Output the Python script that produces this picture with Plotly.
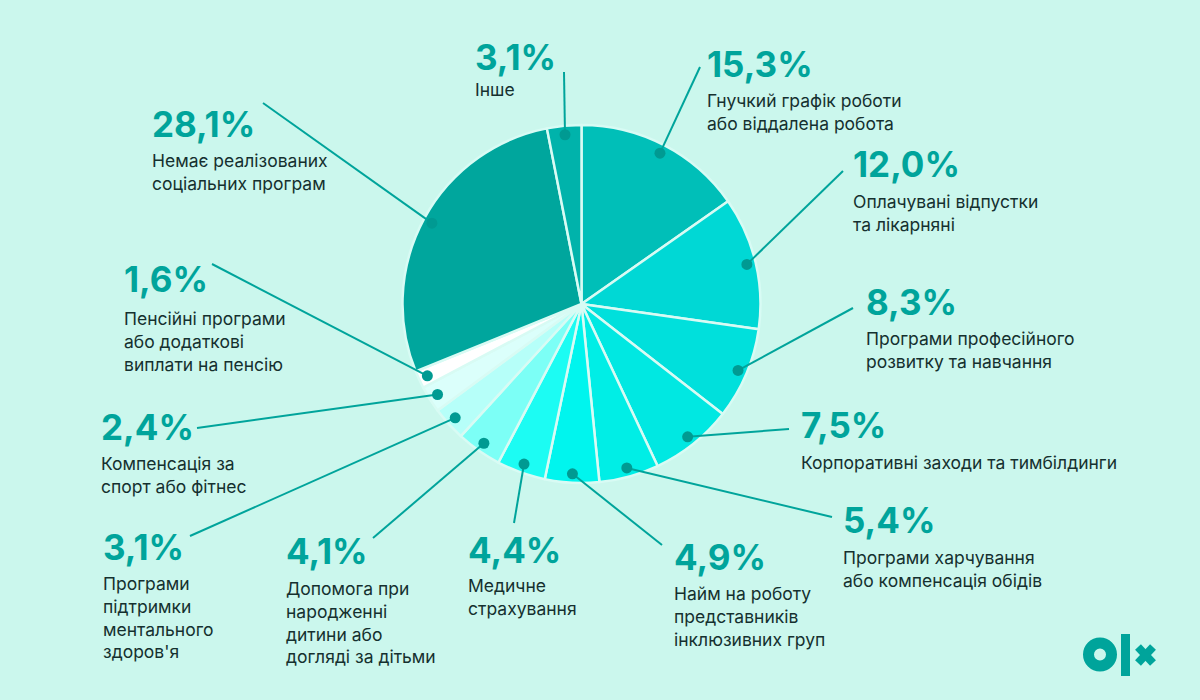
import math
import plotly.graph_objects as go

# ---------------- data ----------------
categories = [
    "Гнучкий графік роботи<br>або віддалена робота",
    "Оплачувані відпустки<br>та лікарняні",
    "Програми професійного<br>розвитку та навчання",
    "Корпоративні заходи та тимбілдинги",
    "Програми харчування<br>або компенсація обідів",
    "Найм на роботу<br>представників<br>інклюзивних груп",
    "Медичне<br>страхування",
    "Допомога при<br>народженні<br>дитини або<br>догляді за дітьми",
    "Програми<br>підтримки<br>ментального<br>здоров'я",
    "Компенсація за<br>спорт або фітнес",
    "Пенсійні програми<br>або додаткові<br>виплати на пенсію",
    "Немає реалізованих<br>соціальних програм",
    "Інше",
]
values = [15.3, 12.0, 8.3, 7.5, 5.4, 4.9, 4.4, 4.1, 3.1, 2.4, 1.6, 28.1, 3.1]
value_labels = ["15,3%", "12,0%", "8,3%", "7,5%", "5,4%", "4,9%", "4,4%",
                "4,1%", "3,1%", "2,4%", "1,6%", "28,1%", "3,1%"]

# ---------------- styling / layout ----------------
slice_colors = ["#00bfb8", "#00d8d5", "#00e0dc", "#00e8e2", "#00eee6", "#00f5ee",
                "#1cfcf3", "#7cfff6", "#b6fff9", "#dbfffb", "#ffffff", "#00a69d", "#00b3ab"]
BG = "#cbf7ed"
TEAL = "#00a49b"
DOT = "#009a92"
DARK = "#15302f"

W, H = 1200, 700
CX, CY, R = 581.5, 304, 179

# label layout: (percent x, percent center y, description top y, leader end x, leader end y)
label_pos = [
    (705, 64, 88, 700, 67),
    (851, 164, 189, 843, 171),
    (864, 302, 326, 853, 308),
    (799, 425, 450, 789, 429),
    (841, 520, 545, 832, 517),
    (672, 557, 581, 662, 545),
    (466, 550, 573, 514, 523),
    (284, 551, 576, 373, 538),
    (101, 547, 571, 190, 536),
    (99, 427, 451, 197, 428),
    (122, 279, 306, 212, 264),
    (150, 124, 148, 263, 103),
    (473, 57, 77, 564, 72),
]

fig = go.Figure()

fig.add_trace(go.Pie(
    values=values,
    labels=[c.replace("<br>", " ") for c in categories],
    sort=False,
    direction="clockwise",
    rotation=0,
    marker=dict(colors=slice_colors, line=dict(color="#d8fbf4", width=2.5)),
    textinfo="none",
    hoverinfo="label+percent",
    showlegend=False,
    domain=dict(x=[(CX - R) / W, (CX + R) / W], y=[(H - CY - R) / H, (H - CY + R) / H]),
))

# invisible cartesian trace to set up the pixel-space axes
fig.add_trace(go.Scatter(x=[0, W], y=[0, H], mode="markers",
                         marker=dict(opacity=0), hoverinfo="skip", showlegend=False))

# dot positions at slice mid-angles (computed from the data)
total = sum(values)
cum = 0
dots = []
for v in values:
    mid = (cum + v / 2) / total * 2 * math.pi
    cum += v
    dots.append((CX + 0.95 * R * math.sin(mid), CY - 0.95 * R * math.cos(mid)))

shapes = []
DR = 5.5
for (dx, dy), lp in zip(dots, label_pos):
    shapes.append(dict(type="line", xref="x", yref="y", layer="above",
                       x0=dx, y0=dy, x1=lp[3], y1=lp[4],
                       line=dict(color=TEAL, width=2)))
for dx, dy in dots:
    shapes.append(dict(type="circle", xref="x", yref="y", layer="above",
                       x0=dx - DR, y0=dy - DR, x1=dx + DR, y1=dy + DR,
                       line=dict(width=0), fillcolor=DOT))

annotations = []
for cat, vl, lp in zip(categories, value_labels, label_pos):
    annotations.append(dict(
        x=lp[0], y=lp[1], xref="x", yref="y", text=vl, showarrow=False,
        xanchor="left", yanchor="middle", align="left",
        font=dict(family="Inter", size=35, color=TEAL, weight=700)))
    annotations.append(dict(
        x=lp[0], y=lp[2], xref="x", yref="y", text=cat, showarrow=False,
        xanchor="left", yanchor="top", align="left",
        font=dict(family="Inter", size=17.5, color=DARK)))

# OLX logo
shapes += [
    dict(type="circle", xref="x", yref="y", x0=1088.5, y0=643, x1=1111.5, y1=666,
         line=dict(color=TEAL, width=11), fillcolor="rgba(0,0,0,0)"),
    dict(type="rect", xref="x", yref="y", x0=1121, y0=634, x1=1130, y1=676,
         line=dict(width=0), fillcolor=TEAL),
    dict(type="line", xref="x", yref="y", x0=1138, y0=647, x1=1153, y1=663,
         line=dict(color=TEAL, width=8)),
    dict(type="line", xref="x", yref="y", x0=1153, y0=647, x1=1138, y1=663,
         line=dict(color=TEAL, width=8)),
]

fig.update_layout(
    width=W, height=H,
    margin=dict(l=0, r=0, t=0, b=0),
    paper_bgcolor=BG, plot_bgcolor="rgba(0,0,0,0)",
    xaxis=dict(range=[0, W], visible=False, domain=[0, 1], fixedrange=True),
    yaxis=dict(range=[H, 0], visible=False, domain=[0, 1], fixedrange=True),
    annotations=annotations,
    shapes=shapes,
    showlegend=False,
)

fig.write_html("out.html",
               config={"displayModeBar": False},
               post_script="document.body.style.margin='0';document.body.style.background='" + BG + "';")
